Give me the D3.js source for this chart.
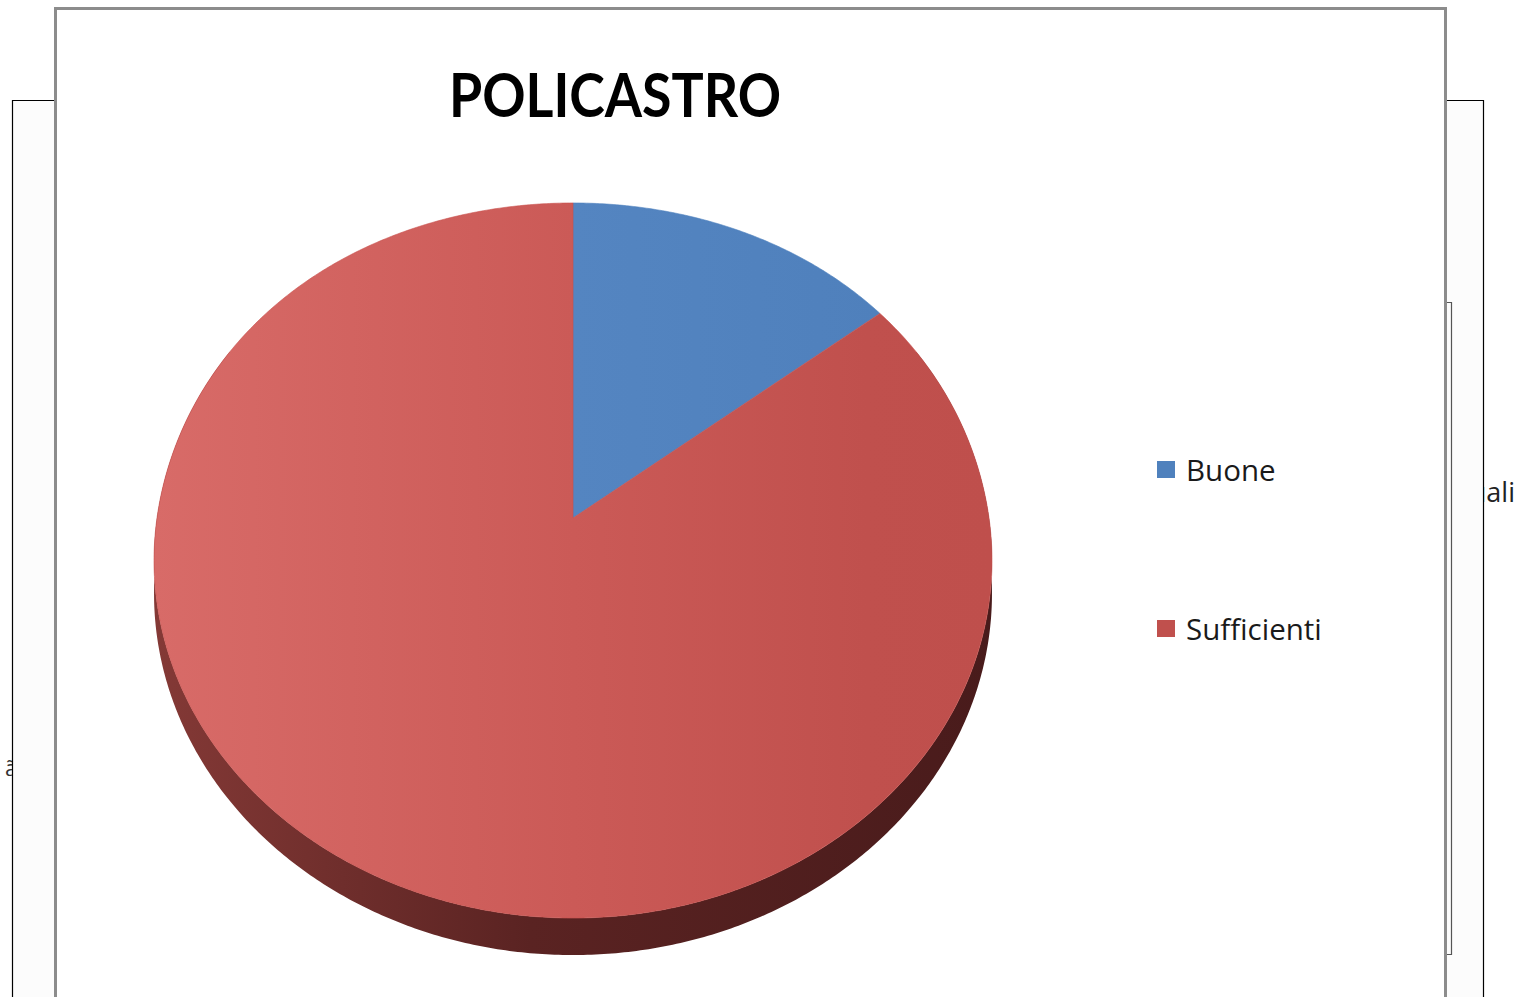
<!DOCTYPE html>
<html>
<head>
<meta charset="utf-8">
<script src="https://cdn.jsdelivr.net/npm/d3@7"></script>
<style>
  body { margin: 0; background: #fff; }
  svg { display: block; }
</style>
</head>
<body>
<div class="chart"></div>
<script>
var svgWidth = 1515;
var svgHeight = 997;

// chart data
var categories = ["Buone", "Sufficienti"];
var values = [1, 6];
var colors = ["#4f81bd", "#c0504d"];
var title = "POLICASTRO";

var svg = d3.select(".chart")
  .append("svg")
  .attr("width", svgWidth)
  .attr("height", svgHeight);

var defs = svg.append("defs");

// gradients for the 3d look
function addGradient(id, x1, x2, stops) {
  var g = defs.append("linearGradient")
    .attr("id", id)
    .attr("gradientUnits", "userSpaceOnUse")
    .attr("x1", x1).attr("x2", x2)
    .attr("y1", 0).attr("y2", 0);
  stops.forEach(s => g.append("stop").attr("offset", s[0]).attr("stop-color", s[1]));
}
addGradient("topRed", 154, 992, [[0, "#d86b68"], [0.5, "#cb5a57"], [0.85, "#c0504d"], [1, "#bf4f4c"]]);
addGradient("topBlue", 573, 880, [[0, "#5485c1"], [1, "#4f80bc"]]);
addGradient("sideRed", 154, 992, [[0, "#843936"], [0.45, "#5a2322"], [1, "#491b1b"]]);

defs.append("clipPath").attr("id", "clipRight")
  .append("rect").attr("x", 1484).attr("y", 0).attr("width", 40).attr("height", svgHeight);
defs.append("clipPath").attr("id", "clipLeft")
  .append("rect").attr("x", 0).attr("y", 0).attr("width", 12).attr("height", svgHeight);

// background chart frame behind
svg.append("path")
  .attr("d", "M12.5,997 V100.5 H1483.5 V997")
  .attr("fill", "#fcfcfc")
  .attr("stroke", "#000")
  .attr("stroke-width", 1.2);

svg.append("text")
  .attr("x", 1515)
  .attr("y", 502)
  .attr("text-anchor", "end")
  .attr("clip-path", "url(#clipRight)")
  .attr("font-family", "Open Sans")
  .attr("font-size", 27)
  .attr("fill", "#222")
  .text("uali");

svg.append("text")
  .attr("x", 5)
  .attr("y", 776)
  .attr("clip-path", "url(#clipLeft)")
  .attr("font-family", "Open Sans")
  .attr("font-size", 22)
  .attr("fill", "#333")
  .text("ã");

// main chart area
svg.append("rect")
  .attr("x", 55.5)
  .attr("y", 8.5)
  .attr("width", 1390)
  .attr("height", 1010)
  .attr("fill", "#fff")
  .attr("stroke", "#8c8c8c")
  .attr("stroke-width", 3);

// small frame on the right edge
svg.append("path")
  .attr("d", "M1447,302.5 H1451.5 V954.5 H1447")
  .attr("fill", "none")
  .attr("stroke", "#555")
  .attr("stroke-width", 1.2);

// title
svg.append("text")
  .attr("x", 615)
  .attr("y", 117)
  .attr("text-anchor", "middle")
  .attr("font-family", "Lato")
  .attr("font-weight", "bold")
  .attr("font-size", 61)
  .attr("textLength", 332)
  .attr("lengthAdjust", "spacingAndGlyphs")
  .attr("fill", "#000")
  .text(title);

// tilted pie projection (back half shrinks a little less sideways)
var cx = 573, cy = 518;
var A = 352.5, B = 416, D = 8.41, k = 0.035, depth = 32.6;

function proj(theta, drop) {
  var u = Math.sin(theta), v = -Math.cos(theta);
  var p = D / (D - v);
  var px = v < 0 ? p * (1 + k * v * v) : p;
  return [cx + B * u * px, cy + A * v * p + drop * p];
}

function arcPoints(a0, a1, drop) {
  var n = Math.max(2, Math.ceil((a1 - a0) / (Math.PI / 360)));
  return d3.range(n + 1).map(i => proj(a0 + (a1 - a0) * i / n, drop));
}

var pie = d3.pie().sort(null).value(d => d);
var arcs = pie(values);
var line = d3.line();

var pieGroup = svg.append("g").classed("pie", true);

// visible side wall
arcs.forEach(function (d, i) {
  var a0 = Math.max(d.startAngle, Math.PI / 3);
  var a1 = Math.min(d.endAngle, 5 * Math.PI / 3);
  if (a1 <= a0) return;
  var pts = arcPoints(a0, a1, 0).concat(arcPoints(a0, a1, depth).reverse());
  pieGroup.append("path")
    .attr("d", line(pts) + "Z")
    .attr("fill", i === 1 ? "url(#sideRed)" : d3.color(colors[i]).darker(1.6));
});

// top faces
arcs.forEach(function (d, i) {
  var pts = [[cx, cy]].concat(arcPoints(d.startAngle, d.endAngle, 0));
  pieGroup.append("path")
    .attr("d", line(pts) + "Z")
    .attr("fill", i === 1 ? "url(#topRed)" : "url(#topBlue)")
    .attr("stroke", i === 1 ? "#c9524f" : "#4f81bd")
    .attr("stroke-width", 0.6);
});

// legend
var legend = svg.append("g")
  .attr("transform", "translate(1157, 461)");

var items = legend.selectAll("g")
  .data(categories)
  .enter()
  .append("g")
  .attr("transform", (d, i) => `translate(0, ${i * 159})`);

items.append("rect")
  .attr("width", 18)
  .attr("height", 17)
  .attr("fill", (d, i) => colors[i]);

items.append("text")
  .attr("x", 29)
  .attr("y", 20)
  .attr("font-family", "Open Sans")
  .attr("font-size", 29.5)
  .attr("fill", "#1a1a1a")
  .text(d => d);
</script>
</body>
</html>
